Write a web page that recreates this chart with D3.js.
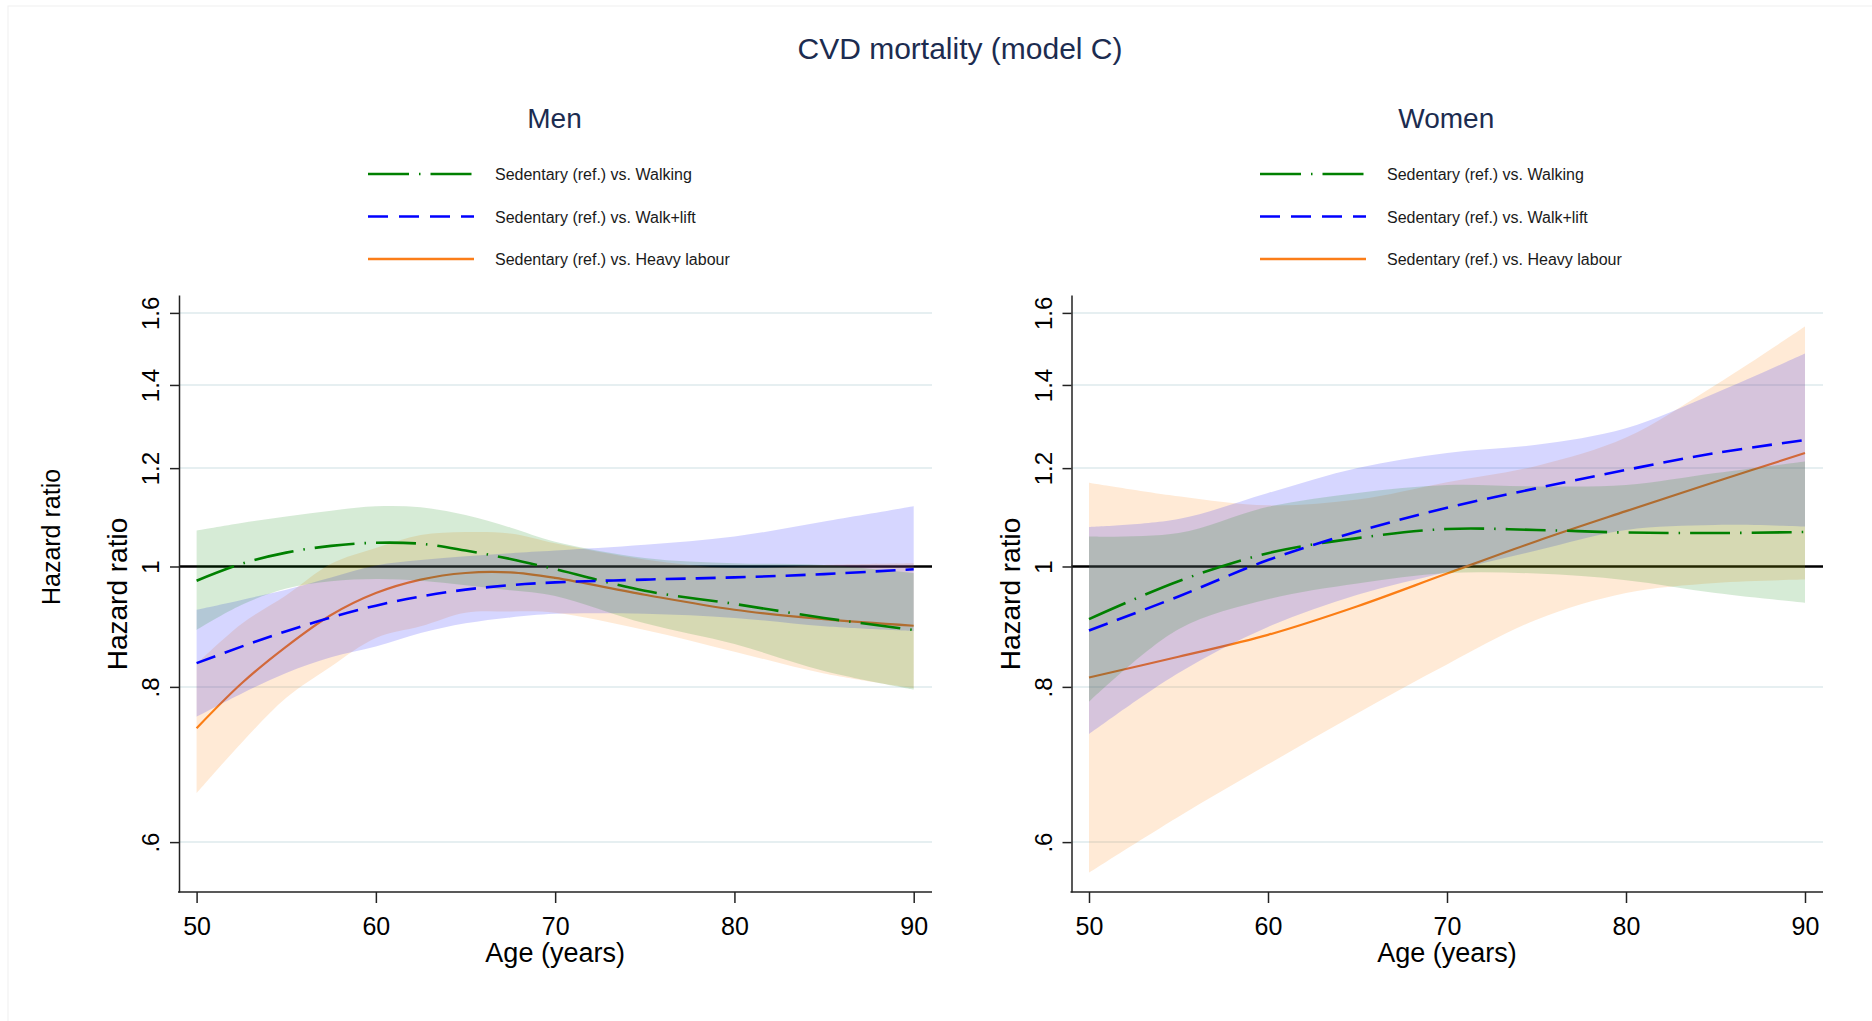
<!DOCTYPE html>
<html lang="en">
<head>
  <meta charset="UTF-8" />
  <title>CVD mortality (model C)</title>
  <script src="https://d3js.org/d3.v7.min.js"></script>
  <style>
    body {
      margin: 0;
      background-color: white;
      font-family: "Liberation Sans", Arial, sans-serif;
    }

    svg {
      display: block;
      background-color: white;
    }

    .title {
      font-size: 30px;
      fill: #1c2c50;
      text-anchor: middle;
    }

    .panel-title {
      font-size: 28px;
      fill: #1c2c50;
      text-anchor: middle;
    }

    .legend-label {
      font-size: 16px;
      fill: #1a1a1a;
    }

    .axis text {
      font-family: "Liberation Sans", Arial, sans-serif;
      fill: black;
    }

    .axis line {
      stroke: #222;
      stroke-width: 1.5px;
    }

    .axis path {
      stroke: #222;
      stroke-width: 1.5px;
    }

    .grid {
      stroke: #e6eff1;
      stroke-width: 2px;
    }

    .axis-title {
      font-size: 27px;
      fill: black;
      text-anchor: middle;
    }
  </style>
</head>
<body>
  <svg width="1872" height="1021"></svg>

  <script>
    // ages on the x axis
    const menAges = [50, 52.5, 55, 57.5, 60, 62.5, 65, 67.5, 70, 75, 80, 85, 90];
    const womenAges = [50, 55, 60, 65, 70, 75, 80, 85, 90];

    // Men: hazard ratios with 95% CI
    const menWalkHR = [0.974, 1.005, 1.026, 1.039, 1.045, 1.043, 1.030, 1.014, 0.995, 0.956, 0.933, 0.909, 0.889];
    const menWalkLo = [0.889, 0.931, 0.960, 0.973, 0.977, 0.974, 0.966, 0.957, 0.947, 0.900, 0.866, 0.824, 0.796];
    const menWalkHi = [1.069, 1.084, 1.097, 1.109, 1.118, 1.116, 1.100, 1.075, 1.047, 1.016, 1.006, 1.003, 0.988];

    const menLiftHR = [0.836, 0.862, 0.887, 0.910, 0.930, 0.946, 0.958, 0.966, 0.971, 0.976, 0.980, 0.986, 0.995];
    const menLiftLo = [0.757, 0.790, 0.821, 0.845, 0.862, 0.884, 0.900, 0.910, 0.916, 0.916, 0.909, 0.895, 0.887];
    const menLiftHi = [0.923, 0.940, 0.958, 0.980, 1.002, 1.012, 1.019, 1.025, 1.030, 1.041, 1.057, 1.087, 1.118];

    const menHeavyHR = [0.741, 0.805, 0.862, 0.914, 0.952, 0.976, 0.988, 0.989, 0.979, 0.949, 0.923, 0.907, 0.896];
    const menHeavyLo = [0.657, 0.721, 0.784, 0.831, 0.876, 0.895, 0.918, 0.920, 0.918, 0.889, 0.854, 0.820, 0.798];
    const menHeavyHi = [0.835, 0.899, 0.948, 1.005, 1.035, 1.060, 1.066, 1.063, 1.044, 1.013, 0.997, 1.003, 1.006];

    // Women
    const womenWalkHR = [0.907, 0.973, 1.025, 1.054, 1.072, 1.070, 1.065, 1.064, 1.066];
    const womenWalkLo = [0.778, 0.890, 0.941, 0.969, 0.988, 0.987, 0.975, 0.952, 0.935];
    const womenWalkHi = [1.057, 1.064, 1.117, 1.146, 1.163, 1.160, 1.163, 1.189, 1.215];

    const womenLiftHR = [0.888, 0.946, 1.012, 1.067, 1.115, 1.156, 1.196, 1.234, 1.264];
    const womenLiftLo = [0.733, 0.821, 0.894, 0.949, 0.990, 1.030, 1.070, 1.080, 1.077];
    const womenLiftHi = [1.076, 1.092, 1.146, 1.200, 1.234, 1.253, 1.292, 1.379, 1.484];

    const womenHeavyHR = [0.814, 0.846, 0.881, 0.929, 0.987, 1.048, 1.108, 1.170, 1.234];
    const womenHeavyLo = [0.567, 0.629, 0.693, 0.762, 0.834, 0.906, 0.952, 0.970, 0.976];
    const womenHeavyHi = [1.168, 1.139, 1.120, 1.132, 1.169, 1.205, 1.270, 1.400, 1.560];

    const seriesNames = ["Sedentary (ref.) vs. Walking", "Sedentary (ref.) vs. Walk+lift", "Sedentary (ref.) vs. Heavy labour"];
    const yTicks = [0.6, 0.8, 1, 1.2, 1.4, 1.6];
    const yTickLabels = [".6", ".8", "1", "1.2", "1.4", "1.6"];
    const xTicks = [50, 60, 70, 80, 90];

    const colors = ["#008000", "#0000ff", "#fb7d18"];
    const fills = ["rgba(0,128,0,0.16)", "rgba(0,0,255,0.16)", "rgba(255,128,10,0.17)"];
    const dashes = ["40,10,1.5,10", "20,10", null];

    const svg = d3.select("svg");

    // faint outer frame
    svg.append("rect")
       .attr("x", 8).attr("y", 6)
       .attr("width", 1880).attr("height", 1030)
       .attr("fill", "none")
       .attr("stroke", "#efefef")
       .attr("stroke-width", 1);

    svg.append("text")
       .attr("class", "title")
       .attr("x", 960)
       .attr("y", 59)
       .text("CVD mortality (model C)");

    const y = d3.scaleLog()
                .domain([0.547, 1.654])
                .range([892, 295]);

    const panels = [
      { name: "Men", ages: menAges, axisX: 179, r0: 196.6, r1: 913.7, end: 932, legendX: 368,
        hr: [menWalkHR, menLiftHR, menHeavyHR],
        lo: [menWalkLo, menLiftLo, menHeavyLo],
        hi: [menWalkHi, menLiftHi, menHeavyHi], extraLabel: true },
      { name: "Women", ages: womenAges, axisX: 1071.5, r0: 1089, r1: 1805, end: 1823, legendX: 1260,
        hr: [womenWalkHR, womenLiftHR, womenHeavyHR],
        lo: [womenWalkLo, womenLiftLo, womenHeavyLo],
        hi: [womenWalkHi, womenLiftHi, womenHeavyHi], extraLabel: false }
    ];

    panels.forEach(p => {
      const x = d3.scaleLinear().domain([50, 90]).range([p.r0, p.r1]);
      const g = svg.append("g");

      // panel title
      g.append("text")
       .attr("class", "panel-title")
       .attr("x", (p.axisX + p.end) / 2 - 1)
       .attr("y", 128)
       .text(p.name);

      // legend
      seriesNames.forEach((name, i) => {
        const ly = 174 + i * 42.5;
        g.append("line")
         .attr("x1", p.legendX).attr("x2", p.legendX + 106)
         .attr("y1", ly).attr("y2", ly)
         .attr("stroke", colors[i])
         .attr("stroke-width", 2.6)
         .attr("stroke-dasharray", i === 0 ? "41,10,1.5,10" : (i === 1 ? "20,11" : null));
        g.append("text")
         .attr("class", "legend-label")
         .attr("x", p.legendX + 127)
         .attr("y", ly + 6)
         .text(name);
      });

      // gridlines
      g.selectAll(".grid")
       .data(yTicks.filter(t => t !== 1))
       .enter()
       .append("line")
       .attr("class", "grid")
       .attr("x1", p.axisX).attr("x2", p.end)
       .attr("y1", d => y(d)).attr("y2", d => y(d));

      // reference line at HR = 1
      g.append("line")
       .attr("x1", p.axisX).attr("x2", p.end)
       .attr("y1", y(1)).attr("y2", y(1))
       .attr("stroke", "black")
       .attr("stroke-width", 2.5);

      const pts = k => p.ages.map((a, j) => ({ age: a, hr: p.hr[k][j], lo: p.lo[k][j], hi: p.hi[k][j] }));

      const line = d3.line()
                     .x(d => x(d.age))
                     .y(d => y(d.hr))
                     .curve(d3.curveCatmullRom.alpha(0.5));

      const area = d3.area()
                     .x(d => x(d.age))
                     .y0(d => y(d.lo))
                     .y1(d => y(d.hi))
                     .curve(d3.curveCatmullRom.alpha(0.5));

      const drawLine = k => g.append("path")
         .datum(pts(k))
         .attr("d", line)
         .attr("fill", "none")
         .attr("stroke", colors[k])
         .attr("stroke-width", k === 2 ? 2.2 : 2.6)
         .attr("stroke-dasharray", dashes[k]);

      // heavy labour line sits under the bands
      drawLine(2);

      // bands: heavy labour, walk+lift, walking
      [2, 1, 0].forEach(k => {
        g.append("path")
         .datum(pts(k))
         .attr("d", area)
         .attr("fill", fills[k])
         .attr("stroke", "none");
      });

      drawLine(0);
      drawLine(1);

      // y axis
      const yAxis = g.append("g")
        .attr("class", "axis")
        .attr("transform", `translate(${p.axisX},0)`)
        .call(d3.axisLeft(y)
                .tickValues(yTicks)
                .tickFormat((d, i) => yTickLabels[i])
                .tickSize(9)
                .tickSizeOuter(0));
      yAxis.selectAll("text")
        .attr("x", null)
        .attr("dy", null)
        .attr("text-anchor", "middle")
        .attr("transform", "translate(-20,0) rotate(-90)")
        .style("font-size", "24px");

      // x axis
      const xAxis = g.append("g")
        .attr("class", "axis")
        .attr("transform", "translate(0,892)")
        .call(d3.axisBottom(x)
                .tickValues(xTicks)
                .tickSize(11)
                .tickSizeOuter(0));
      xAxis.select(".domain").remove();
      xAxis.append("line")
        .attr("x1", p.axisX - 1).attr("x2", p.end)
        .attr("y1", 0).attr("y2", 0);
      xAxis.selectAll("text")
        .attr("y", 43)
        .attr("dy", null)
        .style("font-size", "25px");

      g.append("text")
       .attr("class", "axis-title")
       .attr("x", (p.r0 + p.r1) / 2)
       .attr("y", 962)
       .text("Age (years)");

      g.append("text")
       .attr("class", "axis-title")
       .attr("transform", `translate(${p.axisX - 52},594) rotate(-90)`)
       .style("font-size", "28px")
       .text("Hazard ratio");

      if (p.extraLabel) {
        g.append("text")
         .attr("class", "axis-title")
         .attr("transform", "translate(60,537) rotate(-90)")
         .style("font-size", "25px")
         .text("Hazard ratio");
      }
    });
  </script>
</body>
</html>
